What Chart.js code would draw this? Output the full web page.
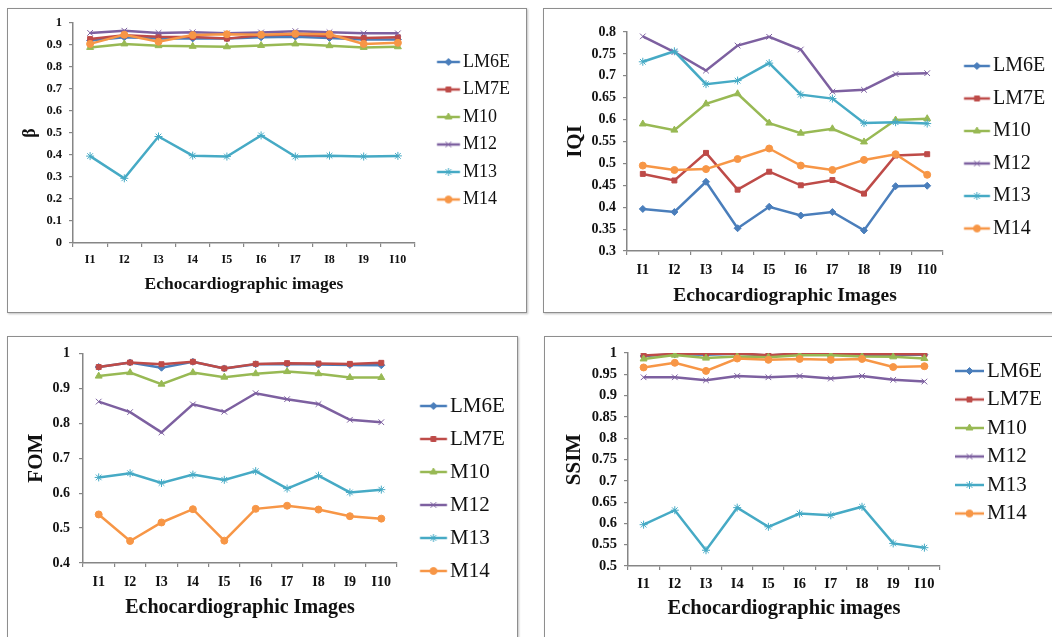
<!DOCTYPE html>
<html>
<head>
<meta charset="utf-8">
<script src="https://cdn.jsdelivr.net/npm/chart.js@4.4.1/dist/chart.umd.min.js"></script>
<style>
  html, body { margin: 0; padding: 0; background: #fff; }
  body { width: 1052px; height: 637px; position: relative; overflow: hidden; }
  canvas { position: absolute; display: block; }
  .frame { position: absolute; box-sizing: border-box; border: 1.5px solid #8e8e8e;
           box-shadow: 1px 1px 2px rgba(0,0,0,0.25); pointer-events: none; }
</style>
</head>
<body>
<canvas id="betaChart" width="520" height="305" style="left:7px;top:8px"></canvas>
<canvas id="iqiChart" width="520" height="305" style="left:543px;top:8px"></canvas>
<canvas id="fomChart" width="511" height="310" style="left:7px;top:336px"></canvas>
<canvas id="ssimChart" width="520" height="310" style="left:544px;top:336px"></canvas>
<div class="frame" style="left:7px;top:8px;width:520px;height:305px"></div>
<div class="frame" style="left:543px;top:8px;width:520px;height:305px"></div>
<div class="frame" style="left:7px;top:336px;width:511px;height:310px"></div>
<div class="frame" style="left:544px;top:336px;width:520px;height:310px"></div>
<script>
// categories and series names
const imageLabels = ['I1', 'I2', 'I3', 'I4', 'I5', 'I6', 'I7', 'I8', 'I9', 'I10'];
const methodNames = ['LM6E', 'LM7E', 'M10', 'M12', 'M13', 'M14'];

// beta
const betaLM6E = [0.920, 0.935, 0.930, 0.930, 0.930, 0.935, 0.938, 0.932, 0.925, 0.925];
const betaLM7E = [0.927, 0.944, 0.938, 0.936, 0.929, 0.944, 0.948, 0.940, 0.932, 0.935];
const betaM10  = [0.889, 0.905, 0.897, 0.894, 0.892, 0.898, 0.905, 0.897, 0.889, 0.892];
const betaM12  = [0.955, 0.965, 0.955, 0.958, 0.953, 0.957, 0.963, 0.958, 0.953, 0.953];
const betaM13  = [0.395, 0.294, 0.484, 0.397, 0.393, 0.489, 0.393, 0.397, 0.393, 0.396];
const betaM14  = [0.905, 0.947, 0.915, 0.945, 0.949, 0.947, 0.951, 0.949, 0.905, 0.910];

// IQI
const iqiLM6E = [0.396, 0.389, 0.458, 0.352, 0.401, 0.381, 0.389, 0.347, 0.448, 0.449];
const iqiLM7E = [0.476, 0.461, 0.524, 0.440, 0.481, 0.450, 0.462, 0.431, 0.518, 0.521];
const iqiM10  = [0.590, 0.576, 0.636, 0.659, 0.592, 0.569, 0.579, 0.549, 0.599, 0.602];
const iqiM12  = [0.790, 0.754, 0.712, 0.769, 0.789, 0.760, 0.664, 0.668, 0.704, 0.706];
const iqiM13  = [0.732, 0.756, 0.681, 0.689, 0.729, 0.657, 0.648, 0.592, 0.594, 0.591];
const iqiM14  = [0.495, 0.485, 0.487, 0.510, 0.534, 0.495, 0.485, 0.508, 0.521, 0.474];

// FOM
const fomLM6E = [0.961, 0.974, 0.959, 0.976, 0.957, 0.969, 0.970, 0.968, 0.967, 0.966];
const fomLM7E = [0.961, 0.974, 0.969, 0.976, 0.957, 0.970, 0.972, 0.971, 0.970, 0.973];
const fomM10  = [0.935, 0.945, 0.912, 0.945, 0.932, 0.942, 0.948, 0.942, 0.931, 0.931];
const fomM12  = [0.862, 0.832, 0.774, 0.854, 0.833, 0.886, 0.869, 0.855, 0.810, 0.803];
const fomM13  = [0.645, 0.657, 0.629, 0.653, 0.638, 0.663, 0.613, 0.650, 0.602, 0.610];
const fomM14  = [0.539, 0.463, 0.516, 0.554, 0.464, 0.555, 0.564, 0.553, 0.534, 0.527];

// SSIM
const ssimLM6E = [0.993, 0.997, 0.996, 0.998, 0.994, 0.998, 0.998, 0.996, 0.996, 0.996];
const ssimLM7E = [0.994, 0.998, 0.998, 0.999, 0.995, 0.999, 0.999, 0.997, 0.997, 0.997];
const ssimM10  = [0.986, 0.995, 0.988, 0.992, 0.990, 0.995, 0.995, 0.992, 0.991, 0.987];
const ssimM12  = [0.943, 0.943, 0.936, 0.946, 0.943, 0.946, 0.940, 0.946, 0.937, 0.933];
const ssimM13  = [0.597, 0.631, 0.537, 0.637, 0.592, 0.623, 0.619, 0.639, 0.553, 0.543];
const ssimM14  = [0.966, 0.977, 0.958, 0.987, 0.984, 0.986, 0.984, 0.986, 0.967, 0.969];

// y ranges: [min, max, step]
const betaRange = [0, 1, 0.1];
const iqiRange  = [0.3, 0.8, 0.05];
const fomRange  = [0.4, 1, 0.1];
const ssimRange = [0.5, 1, 0.05];

const FONT = 'Liberation Serif';
const INK = '#111';
const AXIS = '#868686';
const colors = ['#4a7ebb', '#be4b48', '#98b954', '#7d60a0', '#46aac5', '#f79646'];
const markers = ['rectRot', 'rect', 'triangle', 'crossRot', 'star', 'circle'];
const markerSize = [3.5, 3.5, 4, 4, 4, 3.5];

// layout of each panel (canvas-local pixels)
const panels = [
  { id: 'betaChart', w: 520, plotR: 408, range: betaRange, yTitle: 'β', xTitle: 'Echocardiographic images',
    series: [betaLM6E, betaLM7E, betaM10, betaM12, betaM13, betaM14],
    padL: 10, padT: 15, padB: 10, yW: 56, xH: 60,
    yTickFont: 12.5, yTickPad: 7, xTickFont: 12, xTickPad: 5.8,
    yTitleFont: 18, yTitlePad: 2.2, xTitleFont: 17.5, xTitlePad: 8.5,
    legFont: 18, legPad: 9.5, legTitlePad: 19.5, pw: 29.5, lineFrom: 12.5, lineTo: 35.5 },
  { id: 'iqiChart', w: 520, plotR: 400, range: iqiRange, yTitle: 'IQI', xTitle: 'Echocardiographic Images',
    series: [iqiLM6E, iqiLM7E, iqiM10, iqiM12, iqiM13, iqiM14],
    padL: 10, padT: 24, padB: 5, yW: 74, xH: 57,
    yTickFont: 14, yTickPad: 7, xTickFont: 14, xTickPad: 6.6,
    yTitleFont: 21, yTitlePad: 10.4, xTitleFont: 19.5, xTitlePad: 0.8,
    legFont: 20, legPad: 12.5, legTitlePad: 10.5, pw: 27.5, lineFrom: 8.5, lineTo: 34.5 },
  { id: 'fomChart', w: 511, plotR: 390, range: fomRange, yTitle: 'FOM', xTitle: 'Echocardiographic Images',
    series: [fomLM6E, fomLM7E, fomM10, fomM12, fomM13, fomM14],
    padL: 10, padT: 17, padB: 10, yW: 66, xH: 73,
    yTickFont: 14, yTickPad: 9, xTickFont: 14, xTickPad: 7.3,
    yTitleFont: 21, yTitlePad: 7.4, xTitleFont: 20, xTitlePad: 16,
    legFont: 21, legPad: 12, legTitlePad: 29.5, pw: 30.5, lineFrom: 11, lineTo: 38 },
  { id: 'ssimChart', w: 520, plotR: 396, range: ssimRange, yTitle: 'SSIM', xTitle: 'Echocardiographic images',
    series: [ssimLM6E, ssimLM7E, ssimM10, ssimM12, ssimM13, ssimM14],
    padL: 10, padT: 17, padB: 10, yW: 74, xH: 70,
    yTickFont: 14.5, yTickPad: 7, xTickFont: 14.5, xTickPad: 5.3,
    yTitleFont: 21, yTitlePad: 8.4, xTitleFont: 20.5, xTitlePad: 14.7,
    legFont: 21, legPad: 7.5, legTitlePad: null, pw: 29, lineFrom: 7.5, lineTo: 36.5 }
];

// legend glyph: line with the series marker in the middle
function makeGlyph(i, p) {
  const c = p.pw / 2;
  const half = Math.max(c - p.lineFrom, p.lineTo - c) + 6;
  const cv = document.createElement('canvas');
  cv.width = Math.ceil(half) * 2;
  cv.height = 14;
  const g = cv.getContext('2d');
  const x1 = p.lineFrom - c + cv.width / 2;
  const x2 = p.lineTo - c + cv.width / 2;
  const y = cv.height / 2;
  g.strokeStyle = colors[i];
  g.fillStyle = colors[i];
  g.lineWidth = 2.5;
  g.beginPath();
  g.moveTo(x1, y);
  g.lineTo(x2, y);
  g.stroke();
  g.lineWidth = 1;
  Chart.helpers.drawPoint(g, { pointStyle: markers[i], radius: markerSize[i], rotation: 0, borderWidth: 1 }, (x1 + x2) / 2, y);
  return cv;
}

function buildChart(p) {
  const glyphs = methodNames.map((n, i) => makeGlyph(i, p));
  const datasets = methodNames.map((name, i) => ({
    label: name,
    data: p.series[i],
    borderColor: colors[i],
    backgroundColor: colors[i],
    borderWidth: 2.5,
    pointStyle: markers[i],
    pointRadius: markerSize[i],
    pointBackgroundColor: colors[i],
    pointBorderColor: colors[i],
    pointBorderWidth: 1,
    tension: 0,
    order: methodNames.length - 1 - i
  }));

  const chart = new Chart(document.getElementById(p.id), {
    type: 'line',
    data: { labels: imageLabels, datasets },
    options: {
      responsive: false,
      animation: false,
      events: [],
      layout: { padding: { left: p.padL, top: p.padT, bottom: p.padB, right: 0 } },
      plugins: {
        tooltip: { enabled: false },
        legend: {
          position: 'right',
          align: 'start',
          fullSize: true,
          title: p.legTitlePad == null ? { display: false } :
            { display: true, text: ' ', font: { size: 1, lineHeight: 1 }, padding: { top: p.legTitlePad, bottom: 0 } },
          labels: {
            usePointStyle: true,
            pointStyleWidth: p.pw,
            padding: p.legPad,
            color: INK,
            font: { family: FONT, size: p.legFont },
            generateLabels: ch => ch.data.datasets.map((ds, i) => ({
              text: ds.label, pointStyle: glyphs[i], fontColor: INK,
              fillStyle: colors[i], strokeStyle: colors[i], lineWidth: 0,
              hidden: false, datasetIndex: i
            }))
          }
        }
      },
      scales: {
        x: {
          offset: true,
          grid: { offset: true, drawOnChartArea: false, tickLength: 4, color: AXIS, lineWidth: 1.2 },
          border: { color: AXIS, width: 1.5 },
          ticks: { color: INK, autoSkip: false, maxRotation: 0, padding: p.xTickPad,
                   font: { family: FONT, size: p.xTickFont, weight: 'bold' } },
          title: { display: true, text: p.xTitle, color: INK,
                   font: { family: FONT, size: p.xTitleFont, weight: 'bold', lineHeight: 1.2 },
                   padding: { top: 0, bottom: p.xTitlePad } },
          afterFit: s => { s.height = p.xH; }
        },
        y: {
          min: p.range[0],
          max: p.range[1],
          grid: { drawOnChartArea: false, tickLength: 4, color: AXIS, lineWidth: 1.2 },
          border: { color: AXIS, width: 1.5 },
          ticks: { stepSize: p.range[2], color: INK, padding: p.yTickPad,
                   font: { family: FONT, size: p.yTickFont, weight: 'bold' },
                   callback: v => String(+v.toFixed(2)) },
          title: { display: true, text: p.yTitle, color: INK,
                   font: { family: FONT, size: p.yTitleFont, weight: 'bold', lineHeight: 1.2 },
                   padding: { top: p.yTitlePad, bottom: 0 } },
          afterFit: s => { s.width = p.yW; }
        }
      }
    }
  });

  // give the legend the remaining room so the plot ends where it should
  const extra = (p.w - p.plotR) - chart.legend.width;
  chart.options.layout.padding.right = Math.max(0, extra);
  chart.update();
  return chart;
}

panels.forEach(buildChart);
</script>
</body>
</html>
